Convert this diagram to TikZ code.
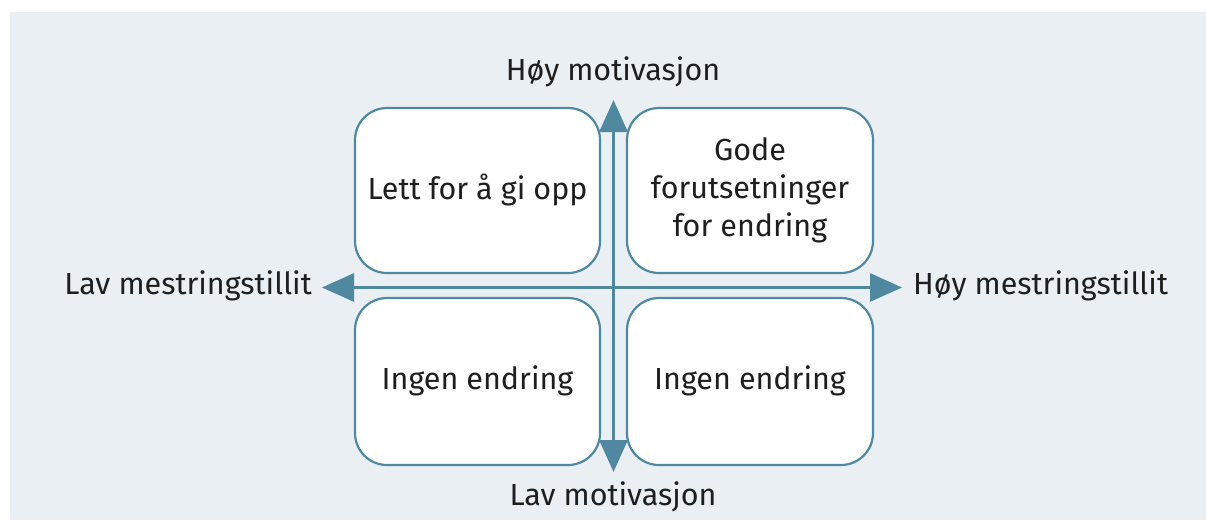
\documentclass[tikz,border=0pt]{standalone}
\usepackage{fontspec}
\setmainfont{Fira Sans}
\usetikzlibrary{arrows.meta}
\definecolor{panel}{HTML}{E9EFF2}
\definecolor{axisblue}{HTML}{4F88A0}
\definecolor{ink}{HTML}{1E1E1E}
\tikzset{
  quadrant/.style={draw=axisblue, line width=2.2pt, fill=white, rounded corners=32pt},
  boxtext/.style={text=ink, font=\fontsize{30.5}{38}\selectfont, align=center},
  axislabel/.style={text=ink, font=\fontsize{30.5}{34}\selectfont, inner sep=0pt},
  axisline/.style={draw=axisblue, line width=3pt, {Triangle[length=32pt,width=28pt]}-{Triangle[length=32pt,width=28pt]}},
}
\begin{document}
% 1 unit = 1pt; y grows upward, so rows are given as negative values
\begin{tikzpicture}[x=1pt,y=1pt]
  \useasboundingbox (0,0) rectangle (1206,-520);
  \fill[panel] (10,-12) rectangle (1206,-520);

  % four quadrants
  \draw[quadrant] (355,-108) rectangle (600,-273);
  \draw[quadrant] (627,-108) rectangle (873,-273);
  \draw[quadrant] (355,-298) rectangle (600,-465);
  \draw[quadrant] (627,-298) rectangle (873,-465);
  \node[boxtext] (tl) at (477.5,-190) {Lett for å gi opp};
  \node[boxtext] (tr) at (750,-190) {Gode\\forutsetninger\\for endring};
  \node[boxtext] (bl) at (477.5,-381) {Ingen endring};
  \node[boxtext] (br) at (750,-381) {Ingen endring};

  % axes
  \coordinate (top) at (613.5,-100);
  \coordinate (bot) at (613.5,-472);
  \coordinate (lft) at (322,-287.5);
  \coordinate (rgt) at (902,-287.5);
  \draw[axisline] (bot) -- (top);
  \draw[axisline] (lft) -- (rgt);

  % axis labels
  \node[axislabel] (hm) at (613,-72) {Høy motivasjon};
  \node[axislabel] (lm) at (613,-497) {Lav motivasjon};
  \node[axislabel, anchor=east] (lmt) at (312,-286) {Lav mestringstillit};
  \node[axislabel, anchor=west] (hmt) at (913,-286) {Høy mestringstillit};
\end{tikzpicture}
\end{document}
